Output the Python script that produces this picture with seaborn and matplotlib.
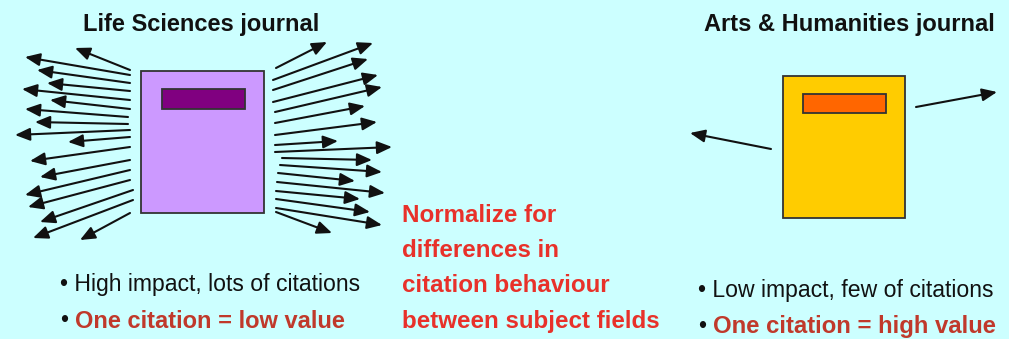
import seaborn as sns
import matplotlib.pyplot as plt
from matplotlib.patches import Rectangle

# citation arrows leaving each journal (pixel coords: x0, y0, x1, y1)
ls_left = [
    (130, 70, 75, 48), (130, 75, 25, 57), (130, 83, 37, 70), (130, 91, 47, 83),
    (130, 100, 22, 89), (130, 109, 50, 100), (128, 117, 25, 109), (128, 124, 35, 122),
    (130, 130, 15, 135), (130, 137, 68, 142), (130, 147, 30, 161), (130, 160, 40, 177),
    (130, 170, 25, 195), (130, 180, 28, 207), (133, 190, 40, 222), (133, 200, 33, 238),
    (130, 213, 80, 240),
]
ls_right = [
    (276, 68, 327, 42), (273, 80, 373, 43), (273, 90, 368, 59), (273, 102, 378, 75),
    (275, 112, 382, 87), (275, 123, 365, 106), (275, 135, 377, 122), (275, 145, 338, 141),
    (275, 152, 392, 147), (282, 158, 372, 160), (280, 165, 382, 172), (278, 173, 355, 181),
    (277, 182, 385, 193), (276, 191, 360, 199), (276, 199, 370, 212), (276, 208, 382, 225),
    (276, 212, 332, 233),
]
ah_arrows = [(771, 149, 690, 133), (916, 107, 997, 92)]

# journal covers: x, y, w, h
ls_book = (141, 71, 123, 142)
ls_label = (162, 89, 83, 20)
ah_book = (783, 76, 122, 142)
ah_label = (803, 94, 83, 19)

titles = ["Life Sciences journal", "Arts & Humanities journal"]
middle_text = ["Normalize for", "differences in", "citation behaviour", "between subject fields"]
ls_bullets = ["High impact, lots of citations", "One citation = low value"]
ah_bullets = ["Low impact, few of citations", "One citation = high value"]

sns.set_theme(style="white")
plt.rcParams['font.family'] = ['Liberation Sans Narrow', 'Liberation Sans', 'DejaVu Sans']

bg = "#CCFFFF"
fig = plt.figure(figsize=(10.09, 3.39), dpi=100, facecolor=bg)
ax = fig.add_axes([0, 0, 1, 1])
ax.set_facecolor(bg)
ax.set_xlim(0, 1009)
ax.set_ylim(339, 0)
ax.axis("off")


def draw_book(rect, label, face, label_face):
    x, y, w, h = rect
    ax.add_patch(Rectangle((x, y), w, h, facecolor=face, edgecolor="#333333", lw=1.3))
    x, y, w, h = label
    ax.add_patch(Rectangle((x, y), w, h, facecolor=label_face, edgecolor="#333333", lw=1.3))


draw_book(ls_book, ls_label, "#CC99FF", "#800080")
draw_book(ah_book, ah_label, "#FFCC00", "#FF6600")

for x0, y0, x1, y1 in ls_left + ls_right + ah_arrows:
    ax.annotate("", xy=(x1, y1), xytext=(x0, y0),
                arrowprops=dict(arrowstyle="-|>,head_length=0.75,head_width=0.32",
                                color="#111111", lw=1.5, shrinkA=0, shrinkB=0))

ax.text(201, 24, titles[0], ha="center", va="center", fontsize=17, fontweight="bold", color="#111111")
ax.text(849, 24, titles[1], ha="center", va="center", fontsize=17, fontweight="bold", color="#111111")

for i, line in enumerate(middle_text):
    ax.text(402, 215 + i * 35.5, line, ha="left", va="center", fontsize=17.4,
            fontweight="bold", color="#E8312A")

ax.text(60, 284, "\u2022 " + ls_bullets[0], ha="left", va="center", fontsize=16.6, color="#111111")
ax.text(60, 321, "\u2022", ha="left", va="center", fontsize=16.6, color="#111111")
ax.text(75, 321, ls_bullets[1], ha="left", va="center", fontsize=17,
        fontweight="bold", color="#C0392B")

ax.text(698, 291, "\u2022 " + ah_bullets[0], ha="left", va="center", fontsize=16.6, color="#111111")
ax.text(698, 326, "\u2022", ha="left", va="center", fontsize=16.6, color="#111111")
ax.text(713, 326, ah_bullets[1], ha="left", va="center", fontsize=17.2,
        fontweight="bold", color="#C0392B")

fig.savefig("out.png", dpi=100, facecolor=bg)
